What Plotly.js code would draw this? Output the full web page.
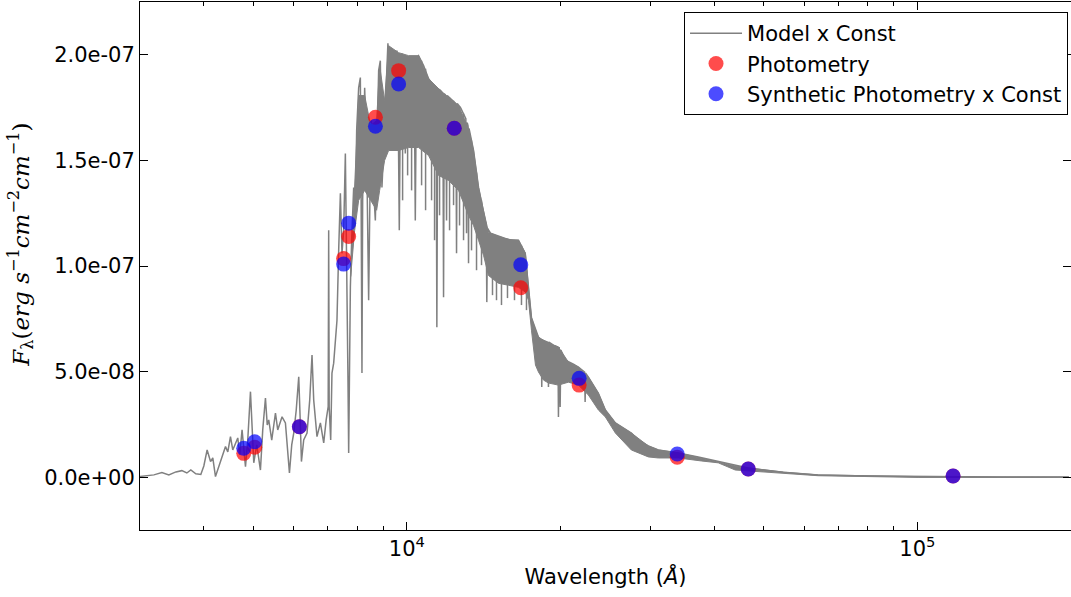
<!DOCTYPE html>
<html>
<head>
<meta charset="utf-8">
<script src="https://cdn.plot.ly/plotly-3.0.1.min.js"></script>
<style>html,body{margin:0;padding:0;background:#fff;}#chart{width:1071px;height:597px;}</style>
</head>
<body>
<div id="chart"></div>
<script>
// Flux values are stored in units of 1e-8 erg s^-1 cm^-2 cm^-1
const FLUX_UNIT = 1e-8;

// Model spectrum (wavelength in Angstrom)
const modelWave = [
2985,3123,3194,3311,3417,3527,3623,3706,3773,3859,3947,4001,4061,4124,4166,4217,4261,4314,4359,4412,4458,4512,4559,4615,4663,4705,4754,4828,4878,4938,4978,5012,5080,5165,5219,5283,5326,5362,5435,5527,5584,5694,5781,5829,5887,5948,6002,6070,6139,6180,6214,6278,6373,6451,6518,6568,6666,6769,6871,6948,7011,7027,7043,7091,7132,7187,7236,7295,
7351,7408,7461,7519,7576,7604,7631,7666,7690,7714,7749,7794,7865,7918,7972,8044,8106,8135,8165,8191,8265,8340,8415,8472,8518,8587,8673,8744,8803,8871,8935,9003,9085,9179,9250,9346,9440,9559,9611,9663,9711,9777,
9875,9928,9987,10154,10330,10386,10447,10541,10782,11027,11279,11406,11447,11494,11640,11761,11798,11836,11921,11959,11997,12177,12471,12510,12550,12738,13046,13087,13128,13176,13205,13235,13506,13814,14129,14302,14341,14386,14582,15117,15531,16029,16543,17050,17305,17541,18103,18333,18374,18416,18895,18937,18980,19369,19766,19810,19873,19963,20026,20445,21196,21679,22293,22343,22394,22678,23723,24483,25612,26552,27525,28407,29717,31087,34018,37226,40737,43586,46634,54602,63931,80087,100321,143874,198110];
const modelFlux = [
0.03,0.06,0.11,0.22,0.11,0.25,0.31,0.20,0.34,0.16,0.13,0.53,1.29,0.74,0.91,0.03,0.34,0.74,1.05,1.45,1.20,1.92,1.29,1.62,1.86,1.05,2.24,0.50,1.76,4.05,1.76,0.68,1.53,0.34,2.24,3.75,2.47,2.71,1.76,3.04,2.24,2.86,2.57,1.29,0.20,1.53,2.09,3.18,4.75,2.71,0.74,1.76,2.09,3.65,5.78,3.65,1.92,2.57,1.62,2.71,3.34,11.69,3.34,1.76,4.93,5.40,6.49,7.43,
10.74,13.44,10.60,11.69,15.33,10.74,7.43,4.60,1.15,4.60,9.01,11.22,13.72,12.16,16.42,18.44,18.92,13.11,4.93,13.11,18.44,15.47,8.38,14.05,16.89,14.05,12.16,15.94,19.25,19.72,13.72,15.47,18.31,20.54,18.78,17.69,19.25,20.20,17.83,11.69,17.83,20.05,
19.82,15.33,19.72,19.72,19.82,12.16,19.82,19.96,19.49,18.87,18.54,18.40,7.10,18.40,18.31,18.16,8.52,18.16,18.07,12.16,18.07,17.93,17.69,10.60,17.69,17.50,16.98,11.55,16.79,16.64,10.13,16.51,15.47,13.72,12.63,11.92,8.29,11.78,11.55,11.40,11.31,11.22,11.22,10.60,9.01,7.55,6.63,6.49,4.27,6.49,6.39,4.27,6.39,6.25,6.16,2.85,6.16,3.32,6.02,5.54,5.35,5.21,4.98,3.56,4.93,4.74,3.97,3.18,2.57,2.33,2.09,1.76,1.48,1.29,1.15,0.96,0.74,0.58,0.44,0.23,0.11,0.06,0.03,0.014,0.005];

// Dense part of the model spectrum: upper and lower envelope
const bandWave = [7759,7901,8044,8265,8491,8724,8843,9044,9209,9633,10077,10541,11027,11535,12067,12624,13205,13506,13814,14129,14451,15117,15814,16543,17073,17305,17541,17860,18103,18515,18937,19810,20723,21679,22678,23723,24483,25612,27525,29717,31087,34018,37733,40737,43981,46634,55096,63931,80087,100321,143874,198110];
const bandHi = [9.50,14.05,18.07,18.07,16.65,16.89,19.49,17.83,20.43,20.10,19.96,19.96,18.87,18.40,17.97,17.59,16.51,15.47,13.72,12.63,11.59,11.40,11.26,11.22,10.60,9.01,7.55,6.96,6.63,6.49,6.35,6.16,5.45,5.21,4.74,3.97,3.18,2.57,2.09,1.48,1.29,1.15,0.91,0.74,0.53,0.44,0.23,0.11,0.06,0.03,0.014,0.005];
const bandLo = [9.50,11.69,13.11,13.58,13.11,12.64,13.58,15.00,15.47,15.47,15.61,15.61,15.23,14.29,14.05,13.58,12.40,11.92,11.22,10.51,9.55,9.18,9.09,8.99,8.76,8.38,6.96,5.31,4.98,4.60,4.46,4.36,4.50,4.36,3.89,3.18,2.85,2.09,1.29,0.96,0.91,0.91,0.77,0.68,0.34,0.30,0.18,0.07,0.03,-0.01,-0.01,-0.005];

// Individual absorption lines below the dense part: wavelength, continuum top, line bottom
const absWave = [9808,10032,10214,10685,10879,11177,11329,11588,12122,12342,12680,12911,13385,13690,14002,14713,14981,15322,15742,16247,16768,17150];
const absTop = [20.05,19.82,19.82,19.72,19.34,18.68,18.49,18.35,17.97,17.83,17.55,17.22,15.94,14.43,13.11,11.50,11.45,11.36,11.26,11.22,10.98,9.80];
const absBottom = [13.11,14.29,13.58,13.82,12.64,13.11,11.22,12.40,11.69,12.88,11.92,11.22,10.74,9.80,10.04,8.62,8.38,8.15,8.48,8.38,8.15,7.91];

// Photometry
const photWave = [4790,5033,6157,7516,7690,8676,9634,12382,16715,21750,33850,46640,117500];
const photFlux = [1.13,1.42,2.39,10.35,11.40,17.04,19.25,16.52,8.97,4.36,0.95,0.39,0.06];
const synthFlux = [1.37,1.68,2.39,10.09,12.03,16.62,18.62,16.52,10.06,4.68,1.10,0.39,0.06];

// Axis ticks
const yTickVals = [0, 5e-8, 1e-7, 1.5e-7, 2e-7];
const yTickText = ['0.0e+00','5.0e-08','1.0e-07','1.5e-07','2.0e-07'];
const xTickVals = [1e4, 1e5];
const xTickText = ['10<sup>4</sup>','10<sup>5</sup>'];
const xMinorVals = [3000,4000,5000,6000,7000,8000,9000,20000,30000,40000,50000,60000,70000,80000,90000,200000];

const sc = a => a.map(v => v * FLUX_UNIT);
const GREY = '#808080';

const absX = [], absY = [];
absWave.forEach((w, i) => {
  absX.push(w, w, null);
  absY.push(absTop[i] * FLUX_UNIT, absBottom[i] * FLUX_UNIT, null);
});

const traces = [
  {x: modelWave, y: sc(modelFlux), type: 'scatter', mode: 'lines', name: 'Model x Const',
   line: {color: GREY, width: 1.5}},
  {x: bandWave, y: sc(bandHi), type: 'scatter', mode: 'lines', showlegend: false, hoverinfo: 'skip',
   line: {color: GREY, width: 1}},
  {x: bandWave, y: sc(bandLo), type: 'scatter', mode: 'lines', showlegend: false, hoverinfo: 'skip',
   fill: 'tonexty', fillcolor: GREY, line: {color: GREY, width: 1}},
  {x: absX, y: absY, type: 'scatter', mode: 'lines', showlegend: false, hoverinfo: 'skip',
   connectgaps: false, line: {color: GREY, width: 1.5}},
  {x: photWave, y: sc(photFlux), type: 'scatter', mode: 'markers', name: 'Photometry',
   marker: {color: 'rgba(255,0,0,0.7)', size: 15, line: {width: 0}}},
  {x: photWave, y: sc(synthFlux), type: 'scatter', mode: 'markers', name: 'Synthetic Photometry x Const',
   marker: {color: 'rgba(0,0,255,0.7)', size: 15, line: {width: 0}}}
];

const layout = {
  width: 1071, height: 597,
  margin: {l: 140, r: 0, t: 2, b: 67},
  paper_bgcolor: '#fff', plot_bgcolor: '#fff',
  font: {family: 'DejaVu Sans', size: 21, color: '#000'},
  showlegend: true,
  legend: {x: 0.9968, y: 0.981, xanchor: 'right', yanchor: 'top', traceorder: 'normal',
           itemwidth: 52,
           bgcolor: '#fff', bordercolor: '#000', borderwidth: 1,
           font: {family: 'DejaVu Sans', size: 21, color: '#000'}},
  xaxis: {
    type: 'log', range: [Math.log10(3000), Math.log10(200000)],
    showline: true, linecolor: '#000', linewidth: 1, mirror: 'ticks',
    ticks: 'inside', ticklen: 8, tickwidth: 1, tickcolor: '#000',
    tickmode: 'array', tickvals: xTickVals, ticktext: xTickText,
    minor: {tickmode: 'array', tickvals: xMinorVals, ticks: 'inside', ticklen: 4, tickcolor: '#000', showgrid: false},
    showgrid: false, zeroline: false,
    title: {text: 'Wavelength (<i>Å</i>)', font: {size: 21}, standoff: 9}
  },
  yaxis: {
    range: [-2.5e-8, 2.25e-7],
    showline: true, linecolor: '#000', linewidth: 1, mirror: 'ticks',
    ticks: 'inside', ticklen: 8, tickwidth: 1, tickcolor: '#000',
    tickmode: 'array', tickvals: yTickVals, ticktext: yTickText,
    showgrid: false, zeroline: false,
    title: {text: '&nbsp;&nbsp;&nbsp;&nbsp;&nbsp;&nbsp;<i>F</i><sub>λ</sub>(<i>erg</i> <i>s</i><sup>−1</sup><i>cm</i><sup>−2</sup><i>cm</i><sup>−1</sup>)',
            font: {family: 'DejaVu Serif', size: 23}, standoff: 8}
  }
};

Plotly.newPlot('chart', traces, layout, {displayModeBar: false, staticPlot: true});
</script>
</body>
</html>
